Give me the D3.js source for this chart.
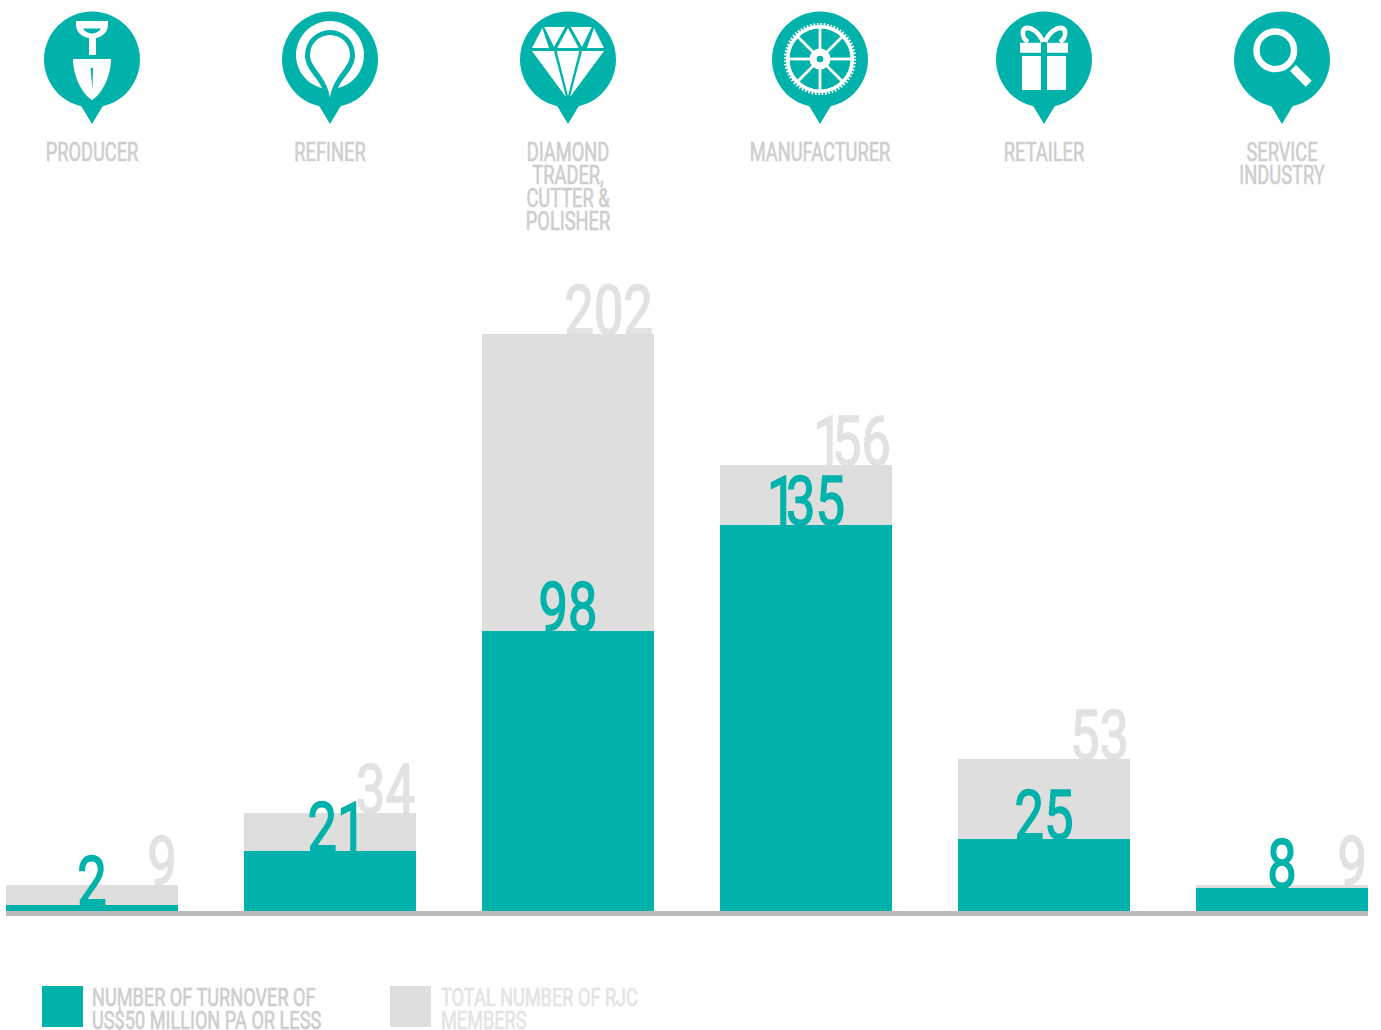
<!DOCTYPE html>
<html>
<head>
<meta charset="utf-8">
<script src="https://d3js.org/d3.v7.min.js"></script>
<style>
  body { margin: 0; background: #fff; }
  svg { display: block; }
  text { font-family: Roboto, "Liberation Sans", sans-serif; }
</style>
</head>
<body>
<div id="chart"></div>
<script>
var categories = ["Producer", "Refiner", "Diamond", "Manufacturer", "Retailer", "Service"];
var categoryLines = [
  ["PRODUCER"],
  ["REFINER"],
  ["DIAMOND", "TRADER,", "CUTTER &", "POLISHER"],
  ["MANUFACTURER"],
  ["RETAILER"],
  ["SERVICE", "INDUSTRY"]
];
var turnoverValues = [2, 21, 98, 135, 25, 8];
var totalValues = [9, 34, 202, 156, 53, 9];
var legendTurnover = ["NUMBER OF TURNOVER OF", "US$50 MILLION PA OR LESS"];
var legendTotal = ["TOTAL NUMBER OF RJC", "MEMBERS"];

var teal = "#00b2aa", grey = "#dedede", labelGrey = "#cecece";

var svg = d3.select("#chart").append("svg")
  .attr("width", 1381).attr("height", 1030);

var x = d3.scaleBand().domain(categories).range([6, 1368]).paddingInner(66 / 238);
var y = d3.scaleLinear().domain([0, 202]).range([911, 334]);

// the bars have crisp edges in the original
function barTop(v) { return Math.floor(y(v)); }

// the manufacturer pin sits a little right of its bar in the original
function iconX(d, i) { return x(d) + x.bandwidth() / 2 + (i == 3 ? 14 : 0); }

// squeezed text, Roboto has nothing as condensed as the original font
function squeezed(parent, str, px, py, sx, anchor, fill) {
  return parent.append("text")
    .attr("transform", "translate(" + px + "," + py + ") scale(" + sx + ",1)")
    .attr("font-size", 26.5).attr("text-anchor", anchor)
    .attr("fill", fill).attr("stroke", fill).attr("stroke-width", 0.7)
    .text(str);
}

// value labels: the 1 is much narrower than other digits in the original
function number(parent, val, px, py, anchor, fill) {
  var s = String(val);
  var t = parent.append("text")
    .attr("transform", "translate(" + px + "," + py + ") scale(0.76,1)")
    .attr("font-size", 69).attr("text-anchor", anchor)
    .attr("fill", fill).attr("stroke", fill).attr("stroke-width", 1.6);
  s.split("").forEach(function(c, k) {
    var dx = 0;
    if (s[k - 1] == "1") dx = -14;
    t.append("tspan").attr("dx", dx).text(c);
  });
  // the 1 closing "21" has empty room on its right in Roboto
  if (s == "21") t.attr("transform", "translate(" + (px + 7) + "," + py + ") scale(0.76,1)");
}

// pins
var pins = svg.selectAll("g.pin").data(categories).enter().append("g")
  .attr("class", "pin")
  .attr("transform", function(d, i) { return "translate(" + iconX(d, i) + ",0)"; });

pins.append("circle").attr("cy", 59.5).attr("r", 48).attr("fill", teal);
pins.append("path").attr("d", "M-12,104 L0,124 L12,104 Z").attr("fill", teal);

var icons = [drawShovel, drawRing, drawDiamond, drawGear, drawGift, drawLens];
pins.each(function(d, i) { icons[i](d3.select(this)); });

function drawShovel(g) {
  g.append("path").attr("fill", "#fff")
    .attr("d", "M-16,21 H16 V25 C16,32 10,37 4,38 V55 H-3 V38 C-10,37 -16,32 -16,25 Z");
  g.append("path").attr("fill", teal)
    .attr("d", "M-9,28.5 H9 C7,32 3,33.5 0,33.5 C-3,33.5 -7,32 -9,28.5 Z");
  g.append("path").attr("fill", "#fff")
    .attr("d", "M-19,59 H19 C19,76 10,94 0,100 C-10,94 -19,76 -19,59 Z");
  g.append("path").attr("fill", teal).attr("d", "M-1.5,68 H1 L0.5,90 Z");
}

function drawRing(g) {
  g.append("path").attr("fill", "#fff").attr("d", "M-8.2,88 A34,34 0 1 1 8.2,88 Z");
  g.append("path").attr("fill", teal)
    .attr("d", "M-25,55 A25,25 0 1 1 25,55 C25,72 8,78 4,100 H-4 C-8,78 -25,72 -25,55 Z");
  g.append("path").attr("fill", "#fff")
    .attr("d", "M-20,55 A20,20 0 1 1 20,55 C20,68 3,76 0,98 C-3,76 -20,68 -20,55 Z");
}

function drawDiamond(g) {
  var facets = [
    "M-25.7,28 L-36,48 H-19 Z", "M-23.7,27 H-3 L-14,47 Z", "M0,28 L-10.7,48 H10.7 Z",
    "M2.7,27 H23.7 L14,47 Z", "M26,28 L19,48 H36 Z",
    "M-36,51 H-14 L-2,97 Z", "M-11.3,51 H11.3 L0,96 Z", "M14,51 H36 L2,97 Z"
  ];
  g.selectAll("path.facet").data(facets).enter().append("path")
    .attr("class", "facet").attr("fill", "#fff").attr("d", function(d) { return d; });
}

function drawGear(g) {
  var c = g.append("g").attr("transform", "translate(0,59)");
  var teeth = 2 * Math.PI * 34.6 / 64;
  c.append("circle").attr("r", 34.6).attr("fill", "none").attr("stroke", "#fff")
    .attr("stroke-width", 3).attr("stroke-dasharray", (teeth / 2) + " " + (teeth / 2));
  c.append("circle").attr("r", 32.3).attr("fill", "none").attr("stroke", "#fff").attr("stroke-width", 3.6);
  d3.range(8).forEach(function(k) {
    c.append("rect").attr("x", 0).attr("y", -1.4).attr("width", 31).attr("height", 2.8)
      .attr("fill", "#fff").attr("transform", "rotate(" + k * 45 + ")");
  });
  c.append("circle").attr("r", 10.5).attr("fill", "#fff");
  c.append("circle").attr("r", 3.3).attr("fill", teal);
}

function drawGift(g) {
  g.append("path").attr("fill", "#fff").attr("d", "M-24,42.7 H-3 V52.7 H-24 Z M3,42.7 H24 V52.7 H3 Z");
  g.append("path").attr("fill", "#fff").attr("d", "M-22,56 H-3 V90 H-22 Z M3,56 H22 V90 H3 Z");
  g.append("path").attr("fill", "none").attr("stroke", "#fff").attr("stroke-width", 4.6)
    .attr("d", "M-1,42 C-5,32 -13,27 -18,28 C-23,30 -22,38 -16,42 M1,42 C5,32 13,27 18,28 C23,30 22,38 16,42");
}

function drawLens(g) {
  g.append("circle").attr("cx", -6.7).attr("cy", 50.3).attr("r", 18.8)
    .attr("fill", "none").attr("stroke", "#fff").attr("stroke-width", 6.4);
  g.append("path").attr("fill", "#fff").attr("d", "M14,65 L29.7,80.7 L23.7,86.7 L8,71 Z");
}

// category names under the pins
categories.forEach(function(d, i) {
  categoryLines[i].forEach(function(line, k) {
    squeezed(svg, line, iconX(d, i), 161 + k * 23, 0.69, "middle", labelGrey);
  });
});

// grey totals first, the bars cover the feet of the digits
var totalGroup = svg.append("g");
categories.forEach(function(d, i) {
  number(totalGroup, totalValues[i], x(d) + x.bandwidth() - 1, barTop(totalValues[i]), "end", "#e2e2e2");
});

svg.selectAll("rect.total").data(categories).enter().append("rect")
  .attr("class", "total").attr("fill", grey)
  .attr("x", function(d) { return x(d); }).attr("width", x.bandwidth())
  .attr("y", function(d, i) { return barTop(totalValues[i]); })
  .attr("height", function(d, i) { return y(0) - barTop(totalValues[i]); });

svg.selectAll("rect.turnover").data(categories).enter().append("rect")
  .attr("class", "turnover").attr("fill", teal)
  .attr("x", function(d) { return x(d); }).attr("width", x.bandwidth())
  .attr("y", function(d, i) { return barTop(turnoverValues[i]); })
  .attr("height", function(d, i) { return y(0) - barTop(turnoverValues[i]); });

categories.forEach(function(d, i) {
  number(svg, turnoverValues[i], x(d) + x.bandwidth() / 2, barTop(turnoverValues[i]), "middle", teal);
});

// baseline
svg.append("rect").attr("x", x.range()[0]).attr("y", y(0))
  .attr("width", x.range()[1] - x.range()[0]).attr("height", 5).attr("fill", "#bcbaba");

// legend
svg.append("rect").attr("x", 42).attr("y", 986).attr("width", 41).attr("height", 41).attr("fill", teal);
svg.append("rect").attr("x", 390).attr("y", 986).attr("width", 41).attr("height", 41).attr("fill", grey);
legendTurnover.forEach(function(line, k) {
  squeezed(svg, line, 92, 1006 + k * 23, 0.685, "start", labelGrey);
});
legendTotal.forEach(function(line, k) {
  squeezed(svg, line, 441, 1006 + k * 23, 0.685, "start", "#e4e4e4");
});
</script>
</body>
</html>
